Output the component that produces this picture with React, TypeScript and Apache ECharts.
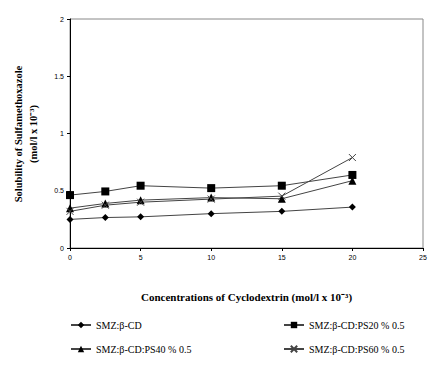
import React, { useEffect, useRef } from "react";
import * as echarts from "echarts";

const concentrations = [0, 2.5, 5, 10, 15, 20];
const smzBetaCD = [0.25, 0.266, 0.272, 0.3, 0.32, 0.357];
const smzPS20 = [0.462, 0.494, 0.544, 0.523, 0.544, 0.638];
const smzPS40 = [0.348, 0.389, 0.418, 0.44, 0.43, 0.588];
const smzPS60 = [0.32, 0.374, 0.4, 0.427, 0.453, 0.79];
const seriesNames = [
  "SMZ:β-CD",
  "SMZ:β-CD:PS20 % 0.5",
  "SMZ:β-CD:PS40 % 0.5",
  "SMZ:β-CD:PS60 % 0.5",
];
const yTicks = ["0", "0.5", "1", "1.5", "2"];

const serif = "Liberation Serif, Times New Roman, serif";

export default function App() {
  const ref = useRef<HTMLDivElement>(null);
  useEffect(() => {
    if (!ref.current) return;
    const chart = echarts.init(ref.current, null, { renderer: "svg" });
    const pairs = (vals: number[]) => concentrations.map((c, i) => [c, vals[i]]);
    const symbols = ["diamond", "rect", "triangle", "path://M0,0L10,10M10,0L0,10"];
    const sizes = [7, 8, 8, 7];
    const data = [smzBetaCD, smzPS20, smzPS40, smzPS60];
    const series = data.map((vals, i) => ({
      type: "line",
      name: seriesNames[i],
      data: pairs(vals),
      symbol: symbols[i],
      symbolSize: sizes[i],
      showSymbol: true,
      lineStyle: { color: "#444", width: 1 },
      itemStyle:
        i === 3
          ? { color: "#444", borderColor: "#444", borderWidth: 1 }
          : { color: "#000", borderWidth: 0 },
    }));
    const legendPos = [
      { left: 70, top: 320 },
      { left: 283, top: 320 },
      { left: 70, top: 344 },
      { left: 283, top: 344 },
    ];
    const legends = seriesNames.map((n, i) => ({
      data: [n],
      left: legendPos[i].left,
      top: legendPos[i].top,
      padding: 0,
      itemWidth: 20,
      itemHeight: 8,
      itemGap: 4,
      textStyle: { fontFamily: serif, fontSize: 10, color: "#000" },
      selectedMode: false,
    }));
    chart.setOption({
      animation: false,
      backgroundColor: "#fff",
      grid: {
        left: 70,
        top: 19,
        right: 17,
        bottom: 119,
        show: true,
        borderColor: "#888",
        borderWidth: 1,
      },
      xAxis: {
        type: "value",
        min: 0,
        max: 25,
        interval: 5,
        name: "Concentrations of Cyclodextrin (mol/l x 10⁻³)",
        nameLocation: "middle",
        nameGap: 43,
        nameTextStyle: { fontFamily: serif, fontSize: 11, fontWeight: "bold", color: "#000" },
        axisLine: { lineStyle: { color: "#000" } },
        axisTick: { show: true, length: 3, lineStyle: { color: "#000" } },
        axisLabel: { fontFamily: "Liberation Sans", fontSize: 7, color: "#000", margin: 6 },
        splitLine: { show: false },
      },
      yAxis: {
        type: "value",
        min: 0,
        max: 2,
        interval: 0.5,
        axisLine: { show: true, lineStyle: { color: "#000" } },
        axisTick: { show: true, length: 3, lineStyle: { color: "#000" } },
        axisLabel: {
          fontFamily: "Liberation Sans",
          fontSize: 7,
          color: "#000",
          margin: 6,
          formatter: (v: number) => yTicks[Math.round(v / 0.5)] ?? String(v),
        },
        splitLine: { show: false },
      },
      graphic: [
        {
          type: "text",
          x: 26,
          y: 134,
          rotation: Math.PI / 2,
          style: {
            text: "Solubility of Sulfamethoxazole\n(mol/l x 10⁻³)",
            font: `bold 10.5px ${serif}`,
            fill: "#000",
            align: "center",
            verticalAlign: "middle",
            lineHeight: 15,
          },
        },
      ],
      legend: legends,
      series,
    });
    return () => chart.dispose();
  }, []);
  return <div ref={ref} style={{ width: 440, height: 367, position: "absolute", left: 0, top: 0 }} />;
}
